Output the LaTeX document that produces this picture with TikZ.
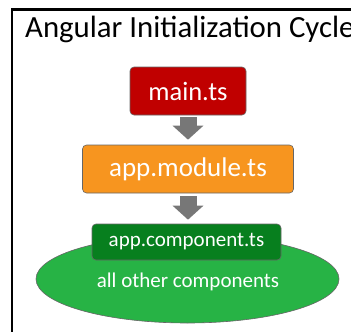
\documentclass[tikz,border=0pt]{standalone}
\usepackage{fontspec}
\setmainfont{Carlito}
\usetikzlibrary{arrows.meta, shapes.geometric}
\definecolor{mainred}{HTML}{C00000}
\definecolor{modorange}{HTML}{F7951F}
\definecolor{compgreen}{HTML}{077F1E}
\definecolor{othgreen}{HTML}{27B345}
\definecolor{arrgray}{HTML}{777777}
\tikzset{
    box/.style = {draw=black!60, line width=0.6pt, rounded corners=4pt, text=white, inner sep=0pt},
    flow/.style = {-{Triangle[width=30pt, length=14pt]}, line width=17pt, arrgray}
}

\begin{document}
\begin{tikzpicture}[x=1pt, y=-1pt]
        \useasboundingbox (0,0) rectangle (351,332);
        \clip (0,0) rectangle (351,332);
        \draw[line width=2.4pt] (11.8,340) -- (11.8,9.4) -- (360,9.4);
        \node[anchor=base west, font=\fontsize{30.8}{36}\selectfont, inner sep=0pt] (title) at (25,37) {Angular Initialization Cycle};
        \node[box, fill=mainred, minimum width=116pt, minimum height=48pt, font=\fontsize{26.5}{30}\selectfont] (main) at (188,91) {main.ts};
        \node[box, fill=modorange, minimum width=211pt, minimum height=48pt, font=\fontsize{27}{30}\selectfont] (module) at (188,169) {app.module.ts};
        \node[ellipse, draw=black!60, line width=0.6pt, fill=othgreen, minimum width=303pt, minimum height=88pt, inner sep=0pt] (others) at (187.5,279) {};
        \node[text=white, font=\fontsize{21}{24}\selectfont] (othertext) at (188,282) {all other components};
        \node[box, fill=compgreen, minimum width=189pt, minimum height=36pt, font=\fontsize{21}{24}\selectfont] (comp) at (186.5,242) {app.component.ts};
        \draw[flow, shorten <=2pt, shorten >=5pt] (main.south) -- (module.north);
        \draw[flow, shorten <=3pt, shorten >=4pt] (module.south) -- (module.south |- comp.north);
    \end{tikzpicture}
\end{document}
